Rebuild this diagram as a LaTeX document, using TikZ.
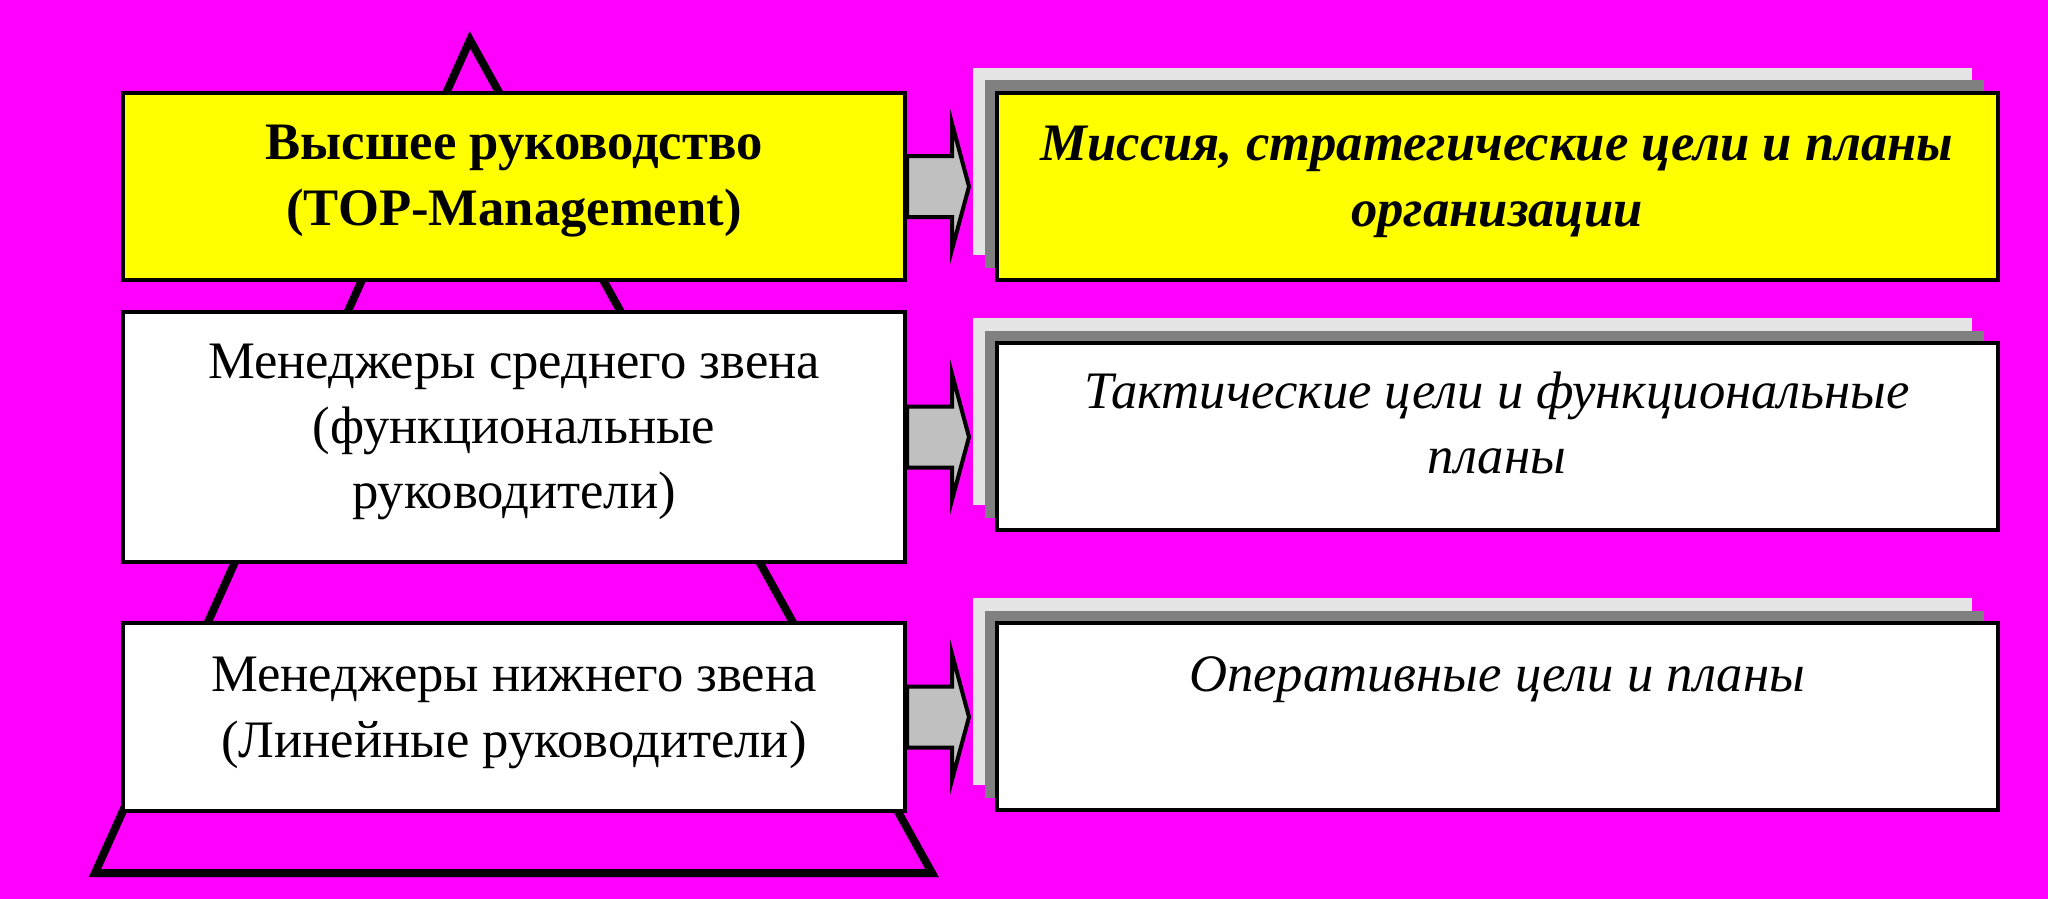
\documentclass[tikz,border=0pt]{standalone}
\usepackage{fontspec}
\setmainfont{Liberation Serif}
\usetikzlibrary{calc}
\definecolor{bg}{HTML}{FF00FF}
\definecolor{ylw}{HTML}{FFFF00}
\definecolor{sil}{HTML}{C0C0C0}
\definecolor{shl}{HTML}{E4E4E4}
\definecolor{shd}{HTML}{808080}
\begin{document}
\begin{tikzpicture}[x=0.75pt,y=-0.75pt,
  boxl/.style={draw=black, line width=3pt, minimum width=586.5pt, inner sep=0pt},
  boxr/.style={draw=black, line width=3pt, minimum width=750.75pt, minimum height=140.25pt, inner sep=0pt},
  txt/.style={align=center, font=\fontsize{39.5}{49}\selectfont, inner sep=0pt},
  barrow/.style={draw=black, line width=3pt, fill=sil, line join=miter},
  tri/.style={draw=black, line width=6pt, line join=miter}]
\fill[bg] (0,0) rectangle (2048,899);
\useasboundingbox (0,0) rectangle (2048,899);
% pyramid
\coordinate (apex) at (470,40);
\coordinate (pbl) at (95,873);
\coordinate (pbr) at (932,873);
\draw[tri] (apex) -- (pbl) -- (pbr) -- cycle;
% left boxes
\node[boxl, fill=ylw, minimum height=140.25pt] (tl) at (514,186.5) {};
\node[boxl, fill=white, minimum height=187.5pt] (ml) at (514,437) {};
\node[boxl, fill=white, minimum height=141pt] (bb) at (514,717) {};
% right boxes with shadows
\foreach \n/\y/\c in {tr/186.5/ylw, mr/436.5/white, br/716.5/white}{
  \fill[shl] ($(1497.5,\y)+(-525,-118.5)$) rectangle ($(1497.5,\y)+(474,68.5)$);
  \fill[shd] ($(1497.5,\y)+(-512.5,-106)$) rectangle ($(1497.5,\y)+(486,81)$);
  \node[boxr, fill=\c] (\n) at (1497.5,\y) {};
}
% block arrows
\draw[barrow] ($(tl.east)+(0,-30.5)$) -- ++(45,0) -- ++(0,-32.5) -- ++(17,63) -- ++(-17,63) -- ++(0,-32.5) -- ++(-45,0) -- cycle;
\draw[barrow] ($(ml.east)+(0,-30.5)$) -- ++(45,0) -- ++(0,-32.5) -- ++(17,63) -- ++(-17,63) -- ++(0,-32.5) -- ++(-45,0) -- cycle;
\draw[barrow] ($(bb.east)+(0,-30.5)$) -- ++(45,0) -- ++(0,-32.5) -- ++(17,63) -- ++(-17,63) -- ++(0,-32.5) -- ++(-45,0) -- cycle;
% texts
\node[txt, font=\fontsize{39.5}{49}\selectfont\bfseries] (t1) at (514,181) {Высшее руководство\\(TOP-Management)};
\node[txt] (t2) at (514,432) {Менеджеры среднего звена\\(функциональные\\руководители)};
\node[txt] (t3) at (514,713) {Менеджеры нижнего звена\\(Линейные руководители)};
\node[txt, font=\fontsize{39.5}{49}\selectfont\bfseries\itshape] (t4) at (1497,182) {Миссия, стратегические цели и планы\\организации};
\node[txt, font=\fontsize{39.5}{49}\selectfont\itshape] (t5) at (1497,423) {Тактические цели и функциональные\\планы};
\node[txt, font=\fontsize{39.5}{49}\selectfont\itshape] (t6) at (1497,680) {Оперативные цели и планы};
\end{tikzpicture}
\end{document}
